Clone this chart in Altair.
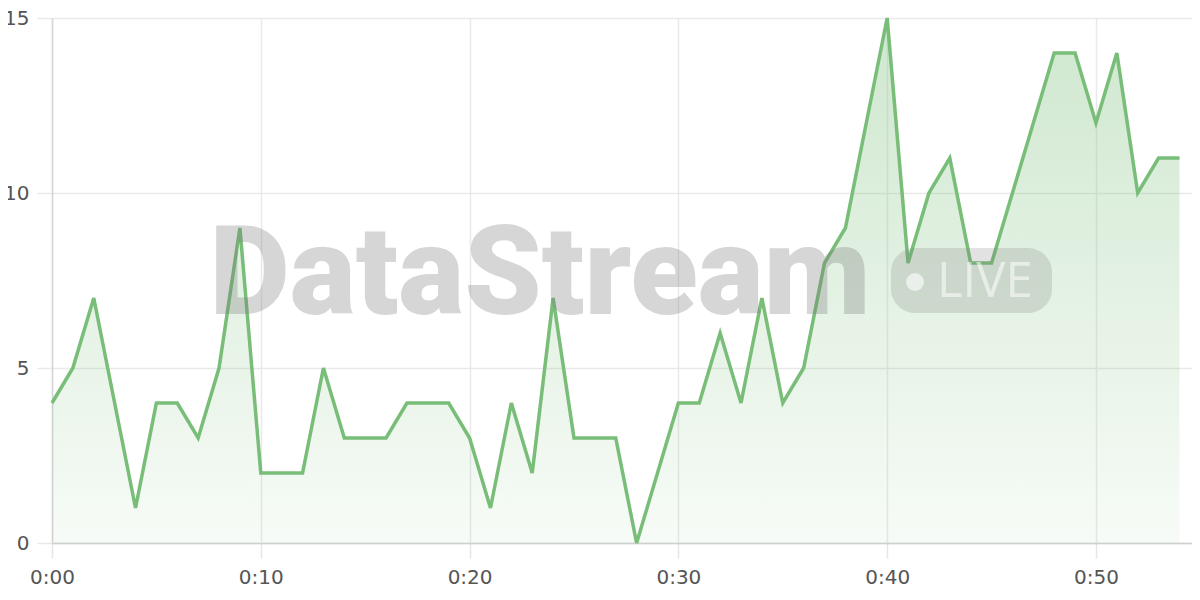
import altair as alt
import pandas as pd

minutes = list(range(55))
values = [4, 5, 7, 4, 1, 4, 4, 3, 5, 9,
          2, 2, 2, 5, 3, 3, 3, 4, 4, 4,
          3, 1, 4, 2, 7, 3, 3, 3, 0, 2,
          4, 4, 6, 4, 7, 4, 5, 8, 9, 12,
          15, 8, 10, 11, 8, 8, 10, 12, 14, 14,
          12, 14, 10, 11, 11]
x_ticks = [0, 10, 20, 30, 40, 50]
y_ticks = [0, 5, 10, 15]
watermark = ["DataStream"]
badge = ["LIVE"]

df = pd.DataFrame({"m": minutes, "v": values})

W, H = 1140, 525
LINE = "#78bd78"

x_enc = alt.X("m:Q", scale=alt.Scale(domain=[0, 54.6], nice=False, zero=False),
              axis=alt.Axis(values=x_ticks, title=None, grid=True, labelFlush=False,
                            labelExpr="'0:' + (datum.value < 10 ? '0' : '') + datum.value",
                            domain=True, domainColor="#cfcfcf", domainWidth=1.5,
                            tickColor="#e6e6e6", tickSize=15, tickWidth=1.5,
                            gridColor="#e9e9e9", gridWidth=1.5,
                            labelFont="DejaVu Sans", labelFontSize=20, labelColor="#555555",
                            labelPadding=9))
y_enc = alt.Y("v:Q", scale=alt.Scale(domain=[0, 15], nice=False),
              axis=alt.Axis(values=y_ticks, title=None, grid=True, labelFlush=False,
                            domain=True, domainColor="#d6d6d6", domainWidth=1.5,
                            tickColor="#e9e9e9", tickSize=15, tickWidth=1.5,
                            gridColor="#e9e9e9", gridWidth=1.5,
                            labelFont="DejaVu Sans", labelFontSize=20, labelColor="#555555",
                            labelPadding=8))

area = alt.Chart(df).mark_area(
    color=alt.Gradient(
        gradient="linear",
        stops=[alt.GradientStop(color="rgba(120,189,120,0.36)", offset=0),
               alt.GradientStop(color="rgba(120,189,120,0.06)", offset=1)],
        x1=0, x2=0, y1=0, y2=1),
    interpolate="linear",
).encode(x=x_enc, y=y_enc)

line = alt.Chart(df).mark_line(color=LINE, strokeWidth=3.5, strokeJoin="miter").encode(
    x="m:Q", y="v:Q")

wm_df = pd.DataFrame({"t": watermark})
wm = alt.Chart(wm_df).mark_text(
    font="Roboto", fontWeight=900, fontSize=124, color="#7a7a7a", opacity=0.3,
    align="center", baseline="alphabetic",
).encode(text="t:N", x=alt.value(488), y=alt.value(296))

pill = alt.Chart(wm_df).mark_rect(
    color="#7a7a7a", opacity=0.22, cornerRadius=24,
).encode(x=alt.value(839), x2=alt.value(1000), y=alt.value(230), y2=alt.value(295))

dot = alt.Chart(wm_df).mark_point(
    shape="circle", filled=True, color="#ffffff", opacity=0.6, size=320,
).encode(x=alt.value(863), y=alt.value(264))

live_df = pd.DataFrame({"t": badge})
live = alt.Chart(live_df).mark_text(
    font="Open Sans", fontWeight=500, fontSize=49, color="#ffffff", opacity=0.55,
    align="left", baseline="middle",
).encode(text="t:N", x=alt.value(885), y=alt.value(264))

chart = alt.layer(area, line, wm, pill, dot, live).properties(
    width=W, height=H,
    autosize=alt.AutoSizeParams(type="none"),
    padding={"left": 44, "top": 10, "right": 0, "bottom": 44},
).configure_view(stroke=None).configure(background="#ffffff")

chart.save("out.html", embed_options={"renderer": "svg", "actions": False})
